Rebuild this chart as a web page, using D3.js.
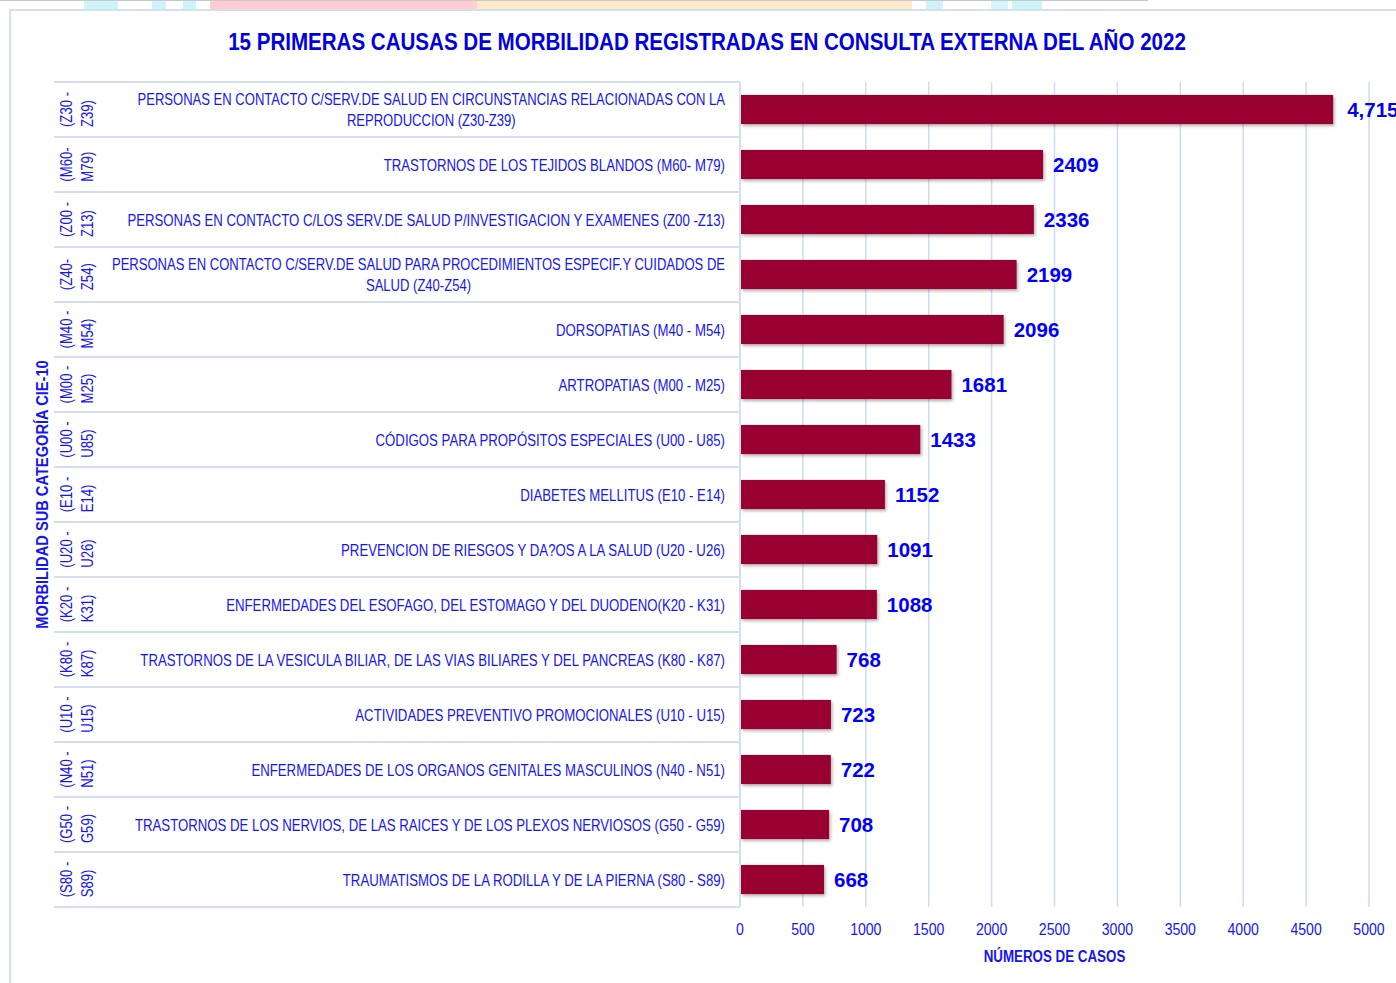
<!DOCTYPE html>
<html>
<head>
<meta charset="utf-8">
<script src="https://cdn.jsdelivr.net/npm/d3@7"></script>
<style>
  body { margin: 0; background: #fff; }
  svg { display: block; }
</style>
</head>
<body>
<svg id="chart" width="1396" height="983"></svg>
<script>
  // chart values, top to bottom as in the picture
  var codes = [
    '(Z30 - Z39)', '(M60- M79)', '(Z00 - Z13)', '(Z40- Z54)', '(M40 - M54)',
    '(M00 - M25)', '(U00 - U85)', '(E10 - E14)', '(U20 - U26)', '(K20 - K31)',
    '(K80 - K87)', '(U10 - U15)', '(N40 - N51)', '(G50 - G59)', '(S80 - S89)'
  ];
  var causes = [
    'PERSONAS EN CONTACTO C/SERV.DE SALUD EN CIRCUNSTANCIAS RELACIONADAS CON LA\nREPRODUCCION (Z30-Z39)',
    'TRASTORNOS DE LOS TEJIDOS BLANDOS (M60- M79)',
    'PERSONAS EN CONTACTO C/LOS SERV.DE SALUD P/INVESTIGACION Y EXAMENES (Z00 -Z13)',
    'PERSONAS EN CONTACTO C/SERV.DE SALUD PARA PROCEDIMIENTOS ESPECIF.Y CUIDADOS DE\nSALUD (Z40-Z54)',
    'DORSOPATIAS (M40 - M54)',
    'ARTROPATIAS (M00 - M25)',
    'CÓDIGOS PARA PROPÓSITOS ESPECIALES (U00 - U85)',
    'DIABETES MELLITUS (E10 - E14)',
    'PREVENCION DE RIESGOS Y DA?OS A LA SALUD (U20 - U26)',
    'ENFERMEDADES DEL ESOFAGO, DEL ESTOMAGO Y DEL DUODENO(K20 - K31)',
    'TRASTORNOS DE LA VESICULA BILIAR, DE LAS VIAS BILIARES Y DEL PANCREAS (K80 - K87)',
    'ACTIVIDADES PREVENTIVO PROMOCIONALES (U10 - U15)',
    'ENFERMEDADES DE LOS ORGANOS GENITALES MASCULINOS (N40 - N51)',
    'TRASTORNOS DE LOS NERVIOS, DE LAS RAICES Y DE LOS PLEXOS NERVIOSOS (G50 - G59)',
    'TRAUMATISMOS DE LA RODILLA Y DE LA PIERNA (S80 - S89)'
  ];
  var cases = [4715, 2409, 2336, 2199, 2096, 1681, 1433, 1152, 1091, 1088, 768, 723, 722, 708, 668];
  var caseLabels = ['4,715', '2409', '2336', '2199', '2096', '1681', '1433', '1152', '1091', '1088',
    '768', '723', '722', '708', '668'];
  var xTicks = [0, 500, 1000, 1500, 2000, 2500, 3000, 3500, 4000, 4500, 5000];

  var title = '15 PRIMERAS CAUSAS DE MORBILIDAD REGISTRADAS EN CONSULTA EXTERNA DEL AÑO 2022';
  var yTitle = 'MORBILIDAD SUB CATEGORÍA CIE-10';
  var xTitle = 'NÚMEROS DE CASOS';

  var sans = "'Liberation Sans', Arial, sans-serif";
  var blue = '#1414f5';

  var svg = d3.select('#chart');

  var plot = { left: 740, right: 1369, top: 82, bottom: 907 };
  var tableLeft = 54;
  var labelRight = 725;

  var x = d3.scaleLinear().domain([0, 5000]).range([plot.left, plot.right]);
  var y = d3.scaleBand().domain(d3.range(cases.length)).range([plot.top, plot.bottom]);
  var barH = y.bandwidth() * 0.53;

  // no narrow font installed: squeeze glyphs horizontally instead
  function condense(sel, k) {
    sel.each(function() {
      var w = this.getComputedTextLength();
      d3.select(this).attr('textLength', w * k).attr('lengthAdjust', 'spacingAndGlyphs');
    });
    return sel;
  }

  // strip left over from the screenshot at the very top
  svg.append('line')
    .attr('x1', 0).attr('x2', 1148).attr('y1', 0.5).attr('y2', 0.5)
    .attr('stroke', '#c8c8c8');
  [[84, 118, '#cdf3fb'], [152, 166, '#cdf3fb'], [183, 196, '#cdf3fb'], [210, 477, '#ffcdd2'],
   [477, 912, '#ffebcc'], [926, 943, '#cdf3fb'], [991, 1008, '#d6f5fc'], [1012, 1042, '#cdf3fb']]
    .forEach(function(s) {
      svg.append('rect').attr('x', s[0]).attr('y', 1).attr('width', s[1] - s[0]).attr('height', 8)
        .attr('fill', s[2]);
    });

  // chart frame
  svg.append('path')
    .attr('d', 'M10,983 V10 H1396')
    .attr('fill', 'none').attr('stroke', '#d5e0ef').attr('stroke-width', 2);

  var defs = svg.append('defs');
  defs.append('filter').attr('id', 'shadow')
    .attr('x', '-5%').attr('y', '-20%').attr('width', '110%').attr('height', '160%')
    .append('feDropShadow')
    .attr('dx', 1.5).attr('dy', 2).attr('stdDeviation', 1.5)
    .attr('flood-color', '#000').attr('flood-opacity', 0.3);

  // vertical gridlines
  svg.append('g').selectAll('line')
    .data(xTicks.slice(1))
    .enter().append('line')
    .attr('x1', function(d) { return x(d); })
    .attr('x2', function(d) { return x(d); })
    .attr('y1', plot.top).attr('y2', plot.bottom)
    .attr('stroke', '#cfdcee').attr('stroke-width', 1.5);

  // category table lines
  var rowEdges = d3.range(cases.length + 1).map(function(i) {
    return i < cases.length ? y(i) : plot.bottom;
  });
  svg.append('g').selectAll('line')
    .data(rowEdges)
    .enter().append('line')
    .attr('x1', tableLeft).attr('x2', plot.left)
    .attr('y1', function(d) { return d; }).attr('y2', function(d) { return d; })
    .attr('stroke', '#d3def0').attr('stroke-width', 2);
  svg.append('line')
    .attr('x1', plot.left).attr('x2', plot.left)
    .attr('y1', plot.top).attr('y2', plot.bottom)
    .attr('stroke', '#d3def0').attr('stroke-width', 2);

  // bars
  svg.append('g').selectAll('rect')
    .data(cases)
    .enter().append('rect')
    .attr('x', x(0) + 1)
    .attr('y', function(d, i) { return y(i) + (y.bandwidth() - barH) / 2; })
    .attr('width', function(d) { return x(d) - x(0) - 1; })
    .attr('height', barH)
    .attr('fill', '#990033')
    .attr('filter', 'url(#shadow)');

  // value labels
  svg.append('g').selectAll('text')
    .data(cases)
    .enter().append('text')
    .attr('x', function(d, i) { return x(d) + (i === 0 ? 14 : 10); })
    .attr('y', function(d, i) { return y(i) + y.bandwidth() / 2 + 7.5; })
    .attr('font-family', sans)
    .attr('font-weight', 'bold')
    .attr('font-size', 20.5)
    .attr('fill', '#0000ff')
    .text(function(d, i) { return caseLabels[i]; });

  // cause descriptions, right aligned, extra lines centred under the first
  var causeG = svg.append('g')
    .attr('font-family', sans).attr('font-size', 16.5).attr('fill', blue);
  causes.forEach(function(c, i) {
    var lines = c.split('\n');
    var cy = y(i) + y.bandwidth() / 2;
    if (lines.length === 1) {
      condense(causeG.append('text')
        .attr('x', labelRight).attr('y', cy + 6)
        .attr('text-anchor', 'end')
        .text(c), 0.8);
    } else {
      var ts = lines.map(function(l, k) {
        return condense(causeG.append('text')
          .attr('text-anchor', 'middle')
          .attr('y', cy + 6 + (k - (lines.length - 1) / 2) * 20.5)
          .text(l), 0.79);
      });
      var w = d3.max(ts, function(t) { return +t.attr('textLength'); });
      ts.forEach(function(t) { t.attr('x', labelRight - w / 2); });
    }
  });

  // CIE-10 code ranges, rotated, two lines each
  var codeG = svg.append('g')
    .attr('font-family', sans).attr('font-size', 16).attr('fill', blue);
  codes.forEach(function(c, i) {
    var cut = c.lastIndexOf(' ');
    var lines = [c.slice(0, cut), c.slice(cut + 1)];
    var cy = y(i) + y.bandwidth() / 2;
    var g = codeG.append('g');
    var t1 = condense(g.append('text').attr('x', 0).attr('y', 0).text(lines[0]), 0.82);
    condense(g.append('text').attr('x', 0).attr('y', 21).text(lines[1]), 0.82);
    var w = +t1.attr('textLength');
    g.attr('transform', 'translate(72,' + (cy + w / 2) + ') rotate(-90)');
  });

  // x axis tick labels
  condense(svg.append('g').selectAll('text')
    .data(xTicks)
    .enter().append('text')
    .attr('x', function(d) { return x(d); })
    .attr('y', 935)
    .attr('text-anchor', 'middle')
    .attr('font-family', sans).attr('font-size', 16).attr('fill', blue)
    .text(function(d) { return d; }), 0.88);

  // titles
  condense(svg.append('text')
    .attr('x', 707).attr('y', 50)
    .attr('text-anchor', 'middle')
    .attr('font-family', sans).attr('font-weight', 'bold').attr('font-size', 24)
    .attr('fill', '#0000e0')
    .text(title), 0.856);

  condense(svg.append('text')
    .attr('x', (plot.left + plot.right) / 2).attr('y', 962)
    .attr('text-anchor', 'middle')
    .attr('font-family', sans).attr('font-weight', 'bold').attr('font-size', 16)
    .attr('fill', blue)
    .text(xTitle), 0.834);

  condense(svg.append('text')
    .attr('transform', 'translate(48,' + (plot.top + plot.bottom) / 2 + ') rotate(-90)')
    .attr('text-anchor', 'middle')
    .attr('font-family', sans).attr('font-weight', 'bold').attr('font-size', 16)
    .attr('fill', blue)
    .text(yTitle), 0.915);
</script>
</body>
</html>
